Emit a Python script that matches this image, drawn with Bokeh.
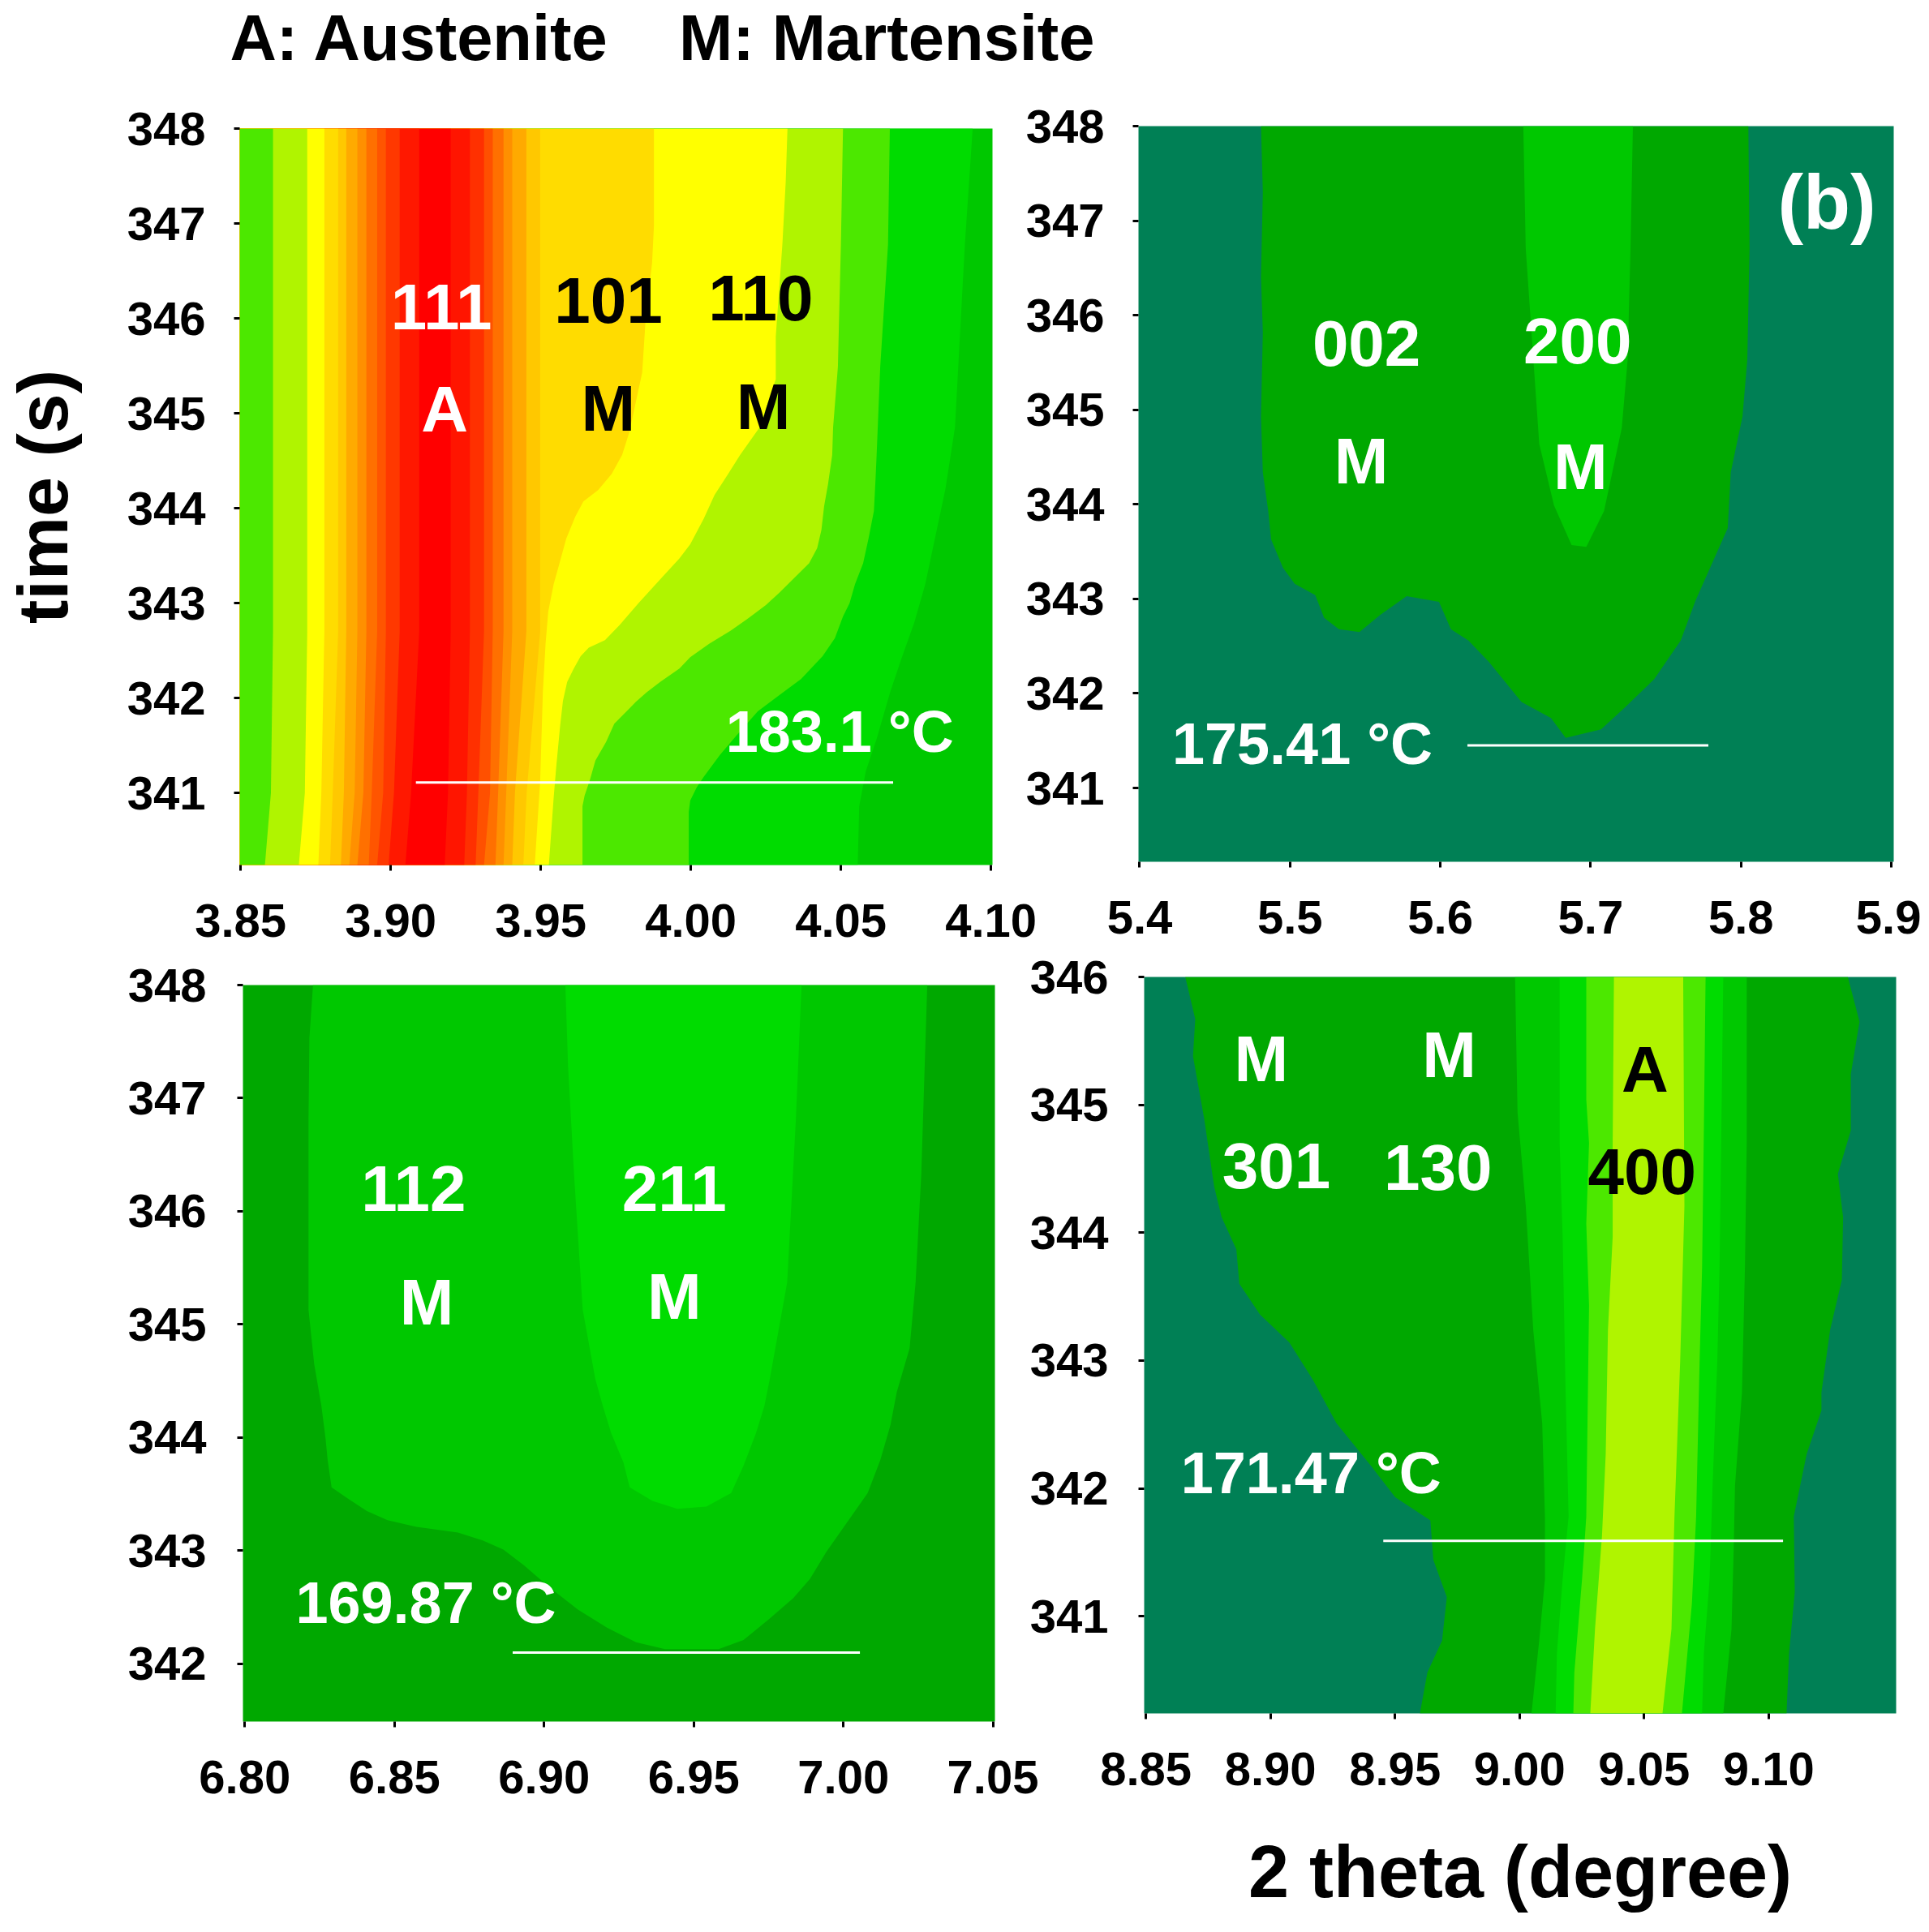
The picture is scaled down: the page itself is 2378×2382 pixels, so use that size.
from bokeh.plotting import figure
from bokeh.layouts import row, column
from bokeh.models import Range1d, FixedTicker, NumeralTickFormatter
from bokeh.core.properties import value
from bokeh.embed import file_html
from bokeh.resources import INLINE

FONT = "Liberation Sans"

# ---------- panel (a): 3.85 - 4.10 ----------
a_ticks_x = [3.85, 3.90, 3.95, 4.00, 4.05, 4.10]
a_ticks_y = [341, 342, 343, 344, 345, 346, 347, 348]
a_base = "#00c800"
a_levels = [348, 342.7, 341, 340.24]
a_edges_top = [3.8608, 3.8722, 3.8779, 3.8825, 3.8852, 3.8889, 3.8919, 3.8955, 3.8984, 3.9030,
               3.9095, 3.9200, 3.9264, 3.9311, 3.9340, 3.9376, 3.9405, 3.9452, 3.9498]
a_edges_mid = [3.8601, 3.8714, 3.8769, 3.8807, 3.8844, 3.8880, 3.8909, 3.8937, 3.8975, 3.9011,
               3.9068, 3.9191, 3.9254, 3.9292, 3.9331, 3.9358, 3.9385, 3.9414, 3.9453]
a_edges_bot = [3.8581, 3.8694, 3.8759, 3.8798, 3.8834, 3.8862, 3.8889, 3.8927, 3.8955, 3.8993,
               3.9049, 3.9180, 3.9245, 3.9283, 3.9311, 3.9349, 3.9376, 3.9405, 3.9442]
a_edge_colors = ["#4ce800", "#b0f400", "#ffff00", "#ffdc00", "#ffc800", "#ffaa00", "#ff9000", "#ff7000",
                 "#ff5500", "#ff3800", "#ff1800", "#ff0000", "#ff1500", "#ff3000", "#ff5000", "#ff7000",
                 "#ff9000", "#ffaa00", "#ffc800"]
a_b1_x = [3.9877, 3.9877, 3.9871, 3.9849, 3.9838, 3.9795, 3.9771, 3.9736, 3.9691, 3.9642, 3.9615, 3.9585, 3.9565,
          3.9543, 3.9525, 3.9516, 3.9507, 3.9498, 3.9480]
a_b1_y = [348, 346.97, 346.59, 345.97, 345.43, 344.8, 344.56, 344.36, 344.19, 344.07, 343.91, 343.68, 343.45,
          343.20, 342.91, 342.57, 342.06, 341.12, 340.24]
a_b2_x = [4.0322, 4.0316, 4.0305, 4.0283, 4.0283, 4.0229, 4.0164, 4.0124, 4.0079, 4.0043, 3.9998, 3.9962, 3.9898,
          3.9826, 3.9763, 3.9714, 3.9660, 3.9633, 3.9610, 3.9588, 3.9574, 3.9565, 3.9552, 3.9543, 3.9527]
a_b2_y = [348, 347.43, 346.78, 345.81, 345.36, 344.85, 344.56, 344.36, 344.14, 343.89, 343.62, 343.47, 343.25,
          343.0, 342.77, 342.61, 342.53, 342.44, 342.31, 342.17, 341.97, 341.72, 341.29, 340.95, 340.24]
a_b3_x = [4.0507, 4.0500, 4.0490, 4.0474, 4.0471, 4.0457, 4.0444, 4.0435, 4.0421, 4.0394, 4.0340, 4.0295, 4.0250,
          4.0196, 4.0133, 4.0061, 3.9998, 3.9962, 3.9898, 3.9853, 3.9817, 3.9786, 3.9745, 3.9718, 3.9682, 3.9664,
          3.9646, 3.9639, 3.9639]
a_b3_y = [348, 346.78, 345.49, 344.85, 344.56, 344.25, 344.02, 343.77, 343.58, 343.42, 343.25, 343.11, 342.98,
          342.85, 342.71, 342.57, 342.43, 342.31, 342.17, 342.06, 341.96, 341.86, 341.73, 341.54, 341.34, 341.14,
          340.97, 340.86, 340.24]
a_b4_x = [4.0663, 4.0657, 4.0631, 4.0619, 4.0615, 4.0610, 4.0592, 4.0574, 4.0547, 4.0529, 4.0507, 4.0480, 4.0439,
          4.0367, 4.0295, 4.0223, 4.0151, 4.0097, 4.0043, 4.0020, 3.9998, 3.9993, 3.9993]
a_b4_y = [348, 346.78, 345.49, 344.56, 344.28, 343.97, 343.68, 343.42, 343.20, 343.0, 342.86, 342.63, 342.44,
          342.2, 342.03, 341.86, 341.6, 341.40, 341.17, 341.06, 340.92, 340.80, 340.24]
a_b5_x = [4.0939, 4.0913, 4.0880, 4.0848, 4.0781, 4.0745, 4.0700, 4.0664, 4.0619, 4.0583, 4.0561, 4.0556]
a_b5_y = [348, 346.78, 344.85, 344.2, 343.20, 342.8, 342.4, 342.06, 341.57, 341.23, 340.86, 340.24]
a_line_x = [3.9084, 4.0674]
a_line_y = [341.11, 341.11]
a_text = ["111", "A", "101", "M", "110", "M"]
a_text_x = [3.9169, 3.9180, 3.9725, 3.9725, 4.0233, 4.0242]
a_text_y = [346.12, 345.04, 346.19, 345.05, 346.21, 345.07]
a_text_c = ["white", "white", "black", "black", "black", "black"]
a_temp = "183.1 °C"
a_temp_x = 4.0496
a_temp_y = 341.65

# ---------- panel (b): 5.4 - 5.9 ----------
b_ticks_x = [5.4, 5.5, 5.6, 5.7, 5.8, 5.9]
b_ticks_y = [341, 342, 343, 344, 345, 346, 347, 348]
b_outer_x = [5.4807, 5.4819, 5.4807, 5.4819, 5.4807, 5.4819, 5.4855, 5.4874, 5.4953, 5.5031, 5.5168, 5.5227,
             5.5325, 5.5462, 5.5599, 5.5776, 5.5991, 5.6070, 5.6187, 5.6325, 5.6540, 5.6736, 5.6834, 5.7069,
             5.7226, 5.7422, 5.7599, 5.7697, 5.7912, 5.7932, 5.8010, 5.8042, 5.8057, 5.8049]
b_outer_y = [348, 347.30, 346.41, 345.82, 344.93, 344.34, 343.93, 343.63, 343.33, 343.16, 343.04, 342.80,
             342.68, 342.65, 342.83, 343.03, 342.97, 342.68, 342.56, 342.33, 341.91, 341.74, 341.53, 341.62,
             341.85, 342.15, 342.56, 342.98, 343.75, 344.34, 344.93, 345.53, 346.71, 348]
b_inner_x = [5.6552, 5.6568, 5.6619, 5.6658, 5.6756, 5.6873, 5.6971, 5.7089, 5.7207, 5.7246, 5.7265, 5.7281]
b_inner_y = [348, 346.71, 345.53, 344.64, 343.99, 343.57, 343.55, 343.93, 344.81, 345.53, 346.71, 348]
b_line_x = [5.6180, 5.7783]
b_line_y = [341.45, 341.45]
b_text = ["002", "M", "200", "M"]
b_text_x = [5.5509, 5.5474, 5.6913, 5.6932]
b_text_y = [345.70, 344.46, 345.73, 344.40]
b_temp = "175.41 °C"
b_temp_x = 5.5082
b_temp_y = 341.47
b_tag = "(b)"
b_tag_x = 5.8571
b_tag_y = 347.20

# ---------- panel (c): 6.80 - 7.05 ----------
c_ticks_x = [6.80, 6.85, 6.90, 6.95, 7.00, 7.05]
c_ticks_y = [342, 343, 344, 345, 346, 347, 348]
c_outer_x = [6.8228, 6.8216, 6.8213, 6.8213, 6.8213, 6.8232, 6.8256, 6.8270, 6.8277, 6.8290, 6.8339, 6.8408, 6.8477,
             6.8574, 6.8712, 6.8795, 6.8864, 6.8933, 6.9016, 6.9113, 6.9210, 6.9307, 6.9404, 6.9583, 6.9666, 6.9749,
             6.9832, 6.9888, 6.9943, 7.0012, 7.0081, 7.0123, 7.0157, 7.0178, 7.0221, 7.0241, 7.0260, 7.0280]
c_outer_y = [348, 347.53, 346.81, 345.85, 345.13, 344.65, 344.28, 343.99, 343.80, 343.56, 343.47, 343.35, 343.27,
             343.21, 343.16, 343.09, 343.01, 342.87, 342.68, 342.48, 342.32, 342.19, 342.13, 342.13, 342.21, 342.39,
             342.58, 342.75, 342.99, 343.25, 343.51, 343.80, 344.11, 344.40, 344.79, 345.37, 346.33, 348]
c_inner_x = [6.9071, 6.9080, 6.9100, 6.9129, 6.9171, 6.9196, 6.9224, 6.9265, 6.9286, 6.9362, 6.9445, 6.9542, 6.9625,
             6.9666, 6.9708, 6.9736, 6.9754, 6.9812, 6.9841, 6.9860]
c_inner_y = [348, 347.29, 346.33, 345.13, 344.52, 344.28, 344.04, 343.78, 343.56, 343.44, 343.37, 343.39, 343.51,
             343.75, 344.04, 344.28, 344.52, 345.37, 346.81, 348]
c_line_x = [6.8895, 7.0055]
c_line_y = [342.10, 342.10]
c_text = ["112", "M", "211", "M"]
c_text_x = [6.8564, 6.8608, 6.9435, 6.9435]
c_text_y = [346.20, 345.20, 346.20, 345.25]
c_temp = "169.87 °C"
c_temp_x = 6.8605
c_temp_y = 342.54

# ---------- panel (d): 8.85 - 9.15 ----------
d_ticks_x = [8.85, 8.90, 8.95, 9.00, 9.05, 9.10]
d_ticks_y = [341, 342, 343, 344, 345, 346]
d1_lx = [8.8658, 8.8698, 8.8689, 8.8734, 8.8774, 8.8804, 8.8863, 8.8875, 8.8958, 8.9076, 8.9170, 8.9265, 8.9406, 8.9501, 8.9642, 8.9654, 8.9708, 8.9689, 8.9630, 8.9600]
d1_ly = [346, 345.67, 345.38, 344.89, 344.36, 344.12, 343.87, 343.60, 343.36, 343.14, 342.85, 342.51, 342.17, 341.93, 341.75, 341.44, 341.15, 340.81, 340.56, 340.24]
d1_rx = [9.1318, 9.1365, 9.1330, 9.1330, 9.1278, 9.1299, 9.1294, 9.1247, 9.1212, 9.1212, 9.1153, 9.1101, 9.1105, 9.1082, 9.1072]
d1_ry = [346, 345.65, 345.24, 344.80, 344.46, 344.12, 343.63, 343.24, 342.75, 342.61, 342.27, 341.78, 341.19, 340.71, 340.24]
d2_lx = [8.9982, 8.9992, 9.0025, 9.0055, 9.0091, 9.0102, 9.0102, 9.0079, 9.0048]
d2_ly = [346, 344.94, 344.21, 343.24, 342.51, 341.78, 341.29, 340.81, 340.24]
d2_rx = [9.0912, 9.0912, 9.0905, 9.0893, 9.0865, 9.0860, 9.0851, 9.0818]
d2_ry = [346, 344.70, 343.73, 342.75, 342.02, 341.54, 340.90, 340.24]
d3_lx = [9.0161, 9.0161, 9.0173, 9.0185, 9.0197, 9.0173, 9.0150, 9.0145]
d3_ly = [346, 344.70, 343.97, 342.75, 341.78, 341.29, 340.71, 340.24]
d3_rx = [9.0818, 9.0810, 9.0803, 9.0794, 9.0775, 9.0763, 9.0740, 9.0733]
d3_ry = [346, 344.80, 343.73, 343.0, 342.02, 341.29, 340.71, 340.24]
d4_lx = [9.0268, 9.0268, 9.0279, 9.0268, 9.0279, 9.0268, 9.0251, 9.0220, 9.0216]
d4_ly = [346, 345.04, 344.70, 344.07, 343.43, 341.78, 341.29, 340.56, 340.24]
d4_rx = [9.0747, 9.0740, 9.0733, 9.0723, 9.0709, 9.0692, 9.0652]
d4_ry = [346, 344.80, 343.73, 343.0, 341.78, 341.10, 340.24]
d5_lx = [9.0379, 9.0374, 9.0374, 9.0355, 9.0346, 9.0331, 9.0303, 9.0284]
d5_ly = [346, 344.70, 343.97, 343.24, 342.27, 341.63, 340.90, 340.24]
d5_rx = [9.0657, 9.0662, 9.0645, 9.0622, 9.0610, 9.0574]
d5_ry = [346, 344.21, 343.0, 341.78, 340.90, 340.24]
d_line_x = [8.9453, 9.1058]
d_line_y = [341.59, 341.59]
d_text = ["M", "M", "A", "301", "130", "400"]
d_text_x = [8.8963, 8.9718, 9.0504, 8.9024, 8.9673, 9.0492]
d_text_y = [345.36, 345.39, 345.28, 344.52, 344.51, 344.48]
d_text_c = ["white", "white", "black", "white", "white", "black"]
d_temp = "171.47 °C"
d_temp_x = 8.9163
d_temp_y = 342.12

headline = "A: Austenite\u00a0\u00a0\u00a0\u00a0M: Martensite"
x_title = "2 theta (degree)"
y_title = "time (s)"

DARK = "#008055"
G1 = "#00a800"
G2 = "#00c800"
G3 = "#00dc00"
G4 = "#4ce800"
G5 = "#b0f400"

TICK_PX = "58px"
LABEL_PX = "80px"
TEMP_PX = "72px"


def panel(xr, yr, ticks_x, ticks_y, fmt, width, height, left, right, top, bottom, bg, y_standoff=35):
    p = figure(width=width, height=height, x_range=Range1d(*xr), y_range=Range1d(*yr),
               toolbar_location=None, output_backend="svg",
               min_border_left=left, min_border_right=right, min_border_top=top, min_border_bottom=bottom)
    p.grid.visible = False
    p.outline_line_color = None
    p.background_fill_color = bg
    p.border_fill_color = None
    for ax, ticks in ((p.xaxis[0], ticks_x), (p.yaxis[0], ticks_y)):
        ax.ticker = FixedTicker(ticks=ticks)
        ax.axis_line_color = None
        ax.major_tick_in = 0
        ax.major_tick_out = 7
        ax.major_tick_line_width = 3
        ax.major_tick_line_color = "black"
        ax.minor_tick_line_color = None
        ax.major_label_text_font = FONT
        ax.major_label_text_font_style = "bold"
        ax.major_label_text_font_size = TICK_PX
        ax.major_label_text_color = "black"
    p.xaxis[0].formatter = NumeralTickFormatter(format=fmt)
    p.yaxis[0].formatter = NumeralTickFormatter(format="0")
    p.xaxis[0].major_label_standoff = 41
    p.yaxis[0].major_label_standoff = y_standoff
    return p


def fill_left(p, xs, ys, xmin, color):
    p.patch(xs + [xmin, xmin], ys + [ys[-1], ys[0]], fill_color=color, line_color=None)


def fill_band(p, lx, ly, rx, ry, color):
    p.patch(lx + rx[::-1], ly + ry[::-1], fill_color=color, line_color=None)


def marks(p, line_x, line_y, tx, ty, labels, colors, temp, temp_x, temp_y):
    p.line(line_x, line_y, line_color="white", line_width=3)
    p.text(tx, ty, text=labels, text_color=colors, text_font=value(FONT), text_font_style="bold",
           text_font_size=LABEL_PX, text_align="center", text_baseline="middle")
    p.text([temp_x], [temp_y], text=[temp], text_color="white", text_font=value(FONT), text_font_style="bold",
           text_font_size=TEMP_PX, text_align="center", text_baseline="middle")


# headline strip above the left column
ph = figure(width=1375, height=108, x_range=Range1d(0, 1), y_range=Range1d(0, 1), toolbar_location=None,
            output_backend="svg", x_axis_location=None, y_axis_location=None,
            min_border_left=0, min_border_right=0, min_border_top=0, min_border_bottom=0)
ph.grid.visible = False
ph.outline_line_color = None
ph.background_fill_color = None
ph.border_fill_color = None
ph.text([0.2167], [0.574], text=[headline], text_color="black", text_font=value(FONT), text_font_style="bold",
        text_font_size="79.5px", text_align="left", text_baseline="middle")

# panel a
pa = panel((3.8497, 4.1005), (340.24, 348), a_ticks_x, a_ticks_y, "0.00", 1375, 1076, 310, 137, 50, 118, a_base)
xmin_a = 3.8497
fill_left(pa, a_b5_x, a_b5_y, xmin_a, G3)
fill_left(pa, a_b4_x, a_b4_y, xmin_a, G4)
fill_left(pa, a_b3_x, a_b3_y, xmin_a, G5)
fill_left(pa, a_b2_x, a_b2_y, xmin_a, "#ffff00")
fill_left(pa, a_b1_x, a_b1_y, xmin_a, "#ffdc00")
for i in reversed(range(len(a_edge_colors))):
    fill_left(pa, [a_edges_top[i], a_edges_top[i], a_edges_mid[i], a_edges_bot[i]], a_levels, xmin_a, a_edge_colors[i])
marks(pa, a_line_x, a_line_y, a_text_x, a_text_y, a_text, a_text_c, a_temp, a_temp_x, a_temp_y)
pa.yaxis[0].axis_label = y_title
pa.yaxis[0].axis_label_text_font = FONT
pa.yaxis[0].axis_label_text_font_style = "bold"
pa.yaxis[0].axis_label_text_font_size = "88px"
pa.yaxis[0].axis_label_text_color = "black"
pa.yaxis[0].axis_label_standoff = 52

# panel b
pb = panel((5.3992, 5.9016), (340.22, 348), b_ticks_x, b_ticks_y, "0.0", 1123, 1176, 158, 34, 147, 122, DARK)
pb.patch(b_outer_x, b_outer_y, fill_color=G1, line_color=None)
pb.patch(b_inner_x, b_inner_y, fill_color=G2, line_color=None)
marks(pb, b_line_x, b_line_y, b_text_x, b_text_y, b_text, ["white"] * len(b_text), b_temp, b_temp_x, b_temp_y)
pb.text([b_tag_x], [b_tag_y], text=[b_tag], text_color="white", text_font=value(FONT), text_font_style="bold",
        text_font_size="95px", text_align="center", text_baseline="middle")

# panel c
pc = panel((6.7994, 7.0506), (341.49, 348), c_ticks_x, c_ticks_y, "0.00", 1295, 1212, 314, 54, 44, 260, G1, y_standoff=38)
pc.patch(c_outer_x, c_outer_y, fill_color=G2, line_color=None)
pc.patch(c_inner_x, c_inner_y, fill_color=G3, line_color=None)
marks(pc, c_line_x, c_line_y, c_text_x, c_text_y, c_text, ["white"] * len(c_text), c_temp, c_temp_x, c_temp_y)

# panel d
pd_ = panel((8.8493, 9.1512), (340.24, 346), d_ticks_x, d_ticks_y, "0.00", 1123, 1212, 165, 31, 34, 270, DARK, y_standoff=37)
fill_band(pd_, d1_lx, d1_ly, d1_rx, d1_ry, G1)
fill_band(pd_, d2_lx, d2_ly, d2_rx, d2_ry, G2)
fill_band(pd_, d3_lx, d3_ly, d3_rx, d3_ry, G3)
fill_band(pd_, d4_lx, d4_ly, d4_rx, d4_ry, G4)
fill_band(pd_, d5_lx, d5_ly, d5_rx, d5_ry, G5)
marks(pd_, d_line_x, d_line_y, d_text_x, d_text_y, d_text, d_text_c, d_temp, d_temp_x, d_temp_y)
pd_.xaxis[0].axis_label = x_title
pd_.xaxis[0].axis_label_text_font = FONT
pd_.xaxis[0].axis_label_text_font_style = "bold"
pd_.xaxis[0].axis_label_text_font_size = "90px"
pd_.xaxis[0].axis_label_text_color = "black"
pd_.xaxis[0].axis_label_standoff = 54

# each figure sits in its own wrapper so that the columns do not align their frames
wrap_a = column(row(ph), row(pa), spacing=0)
wrap_c = row(pc, margin=(-14, 0, 0, 0))
wrap_d = row(pd_, margin=(-14, 0, 0, 0))
left_col = column(wrap_a, wrap_c, spacing=0)
right_col = column(row(pb), wrap_d, spacing=0, margin=(8, 0, 0, -115))
page = row(left_col, right_col, spacing=0, margin=(0, 0, 0, -15))

open("out.html", "w").write(file_html(page, INLINE))
